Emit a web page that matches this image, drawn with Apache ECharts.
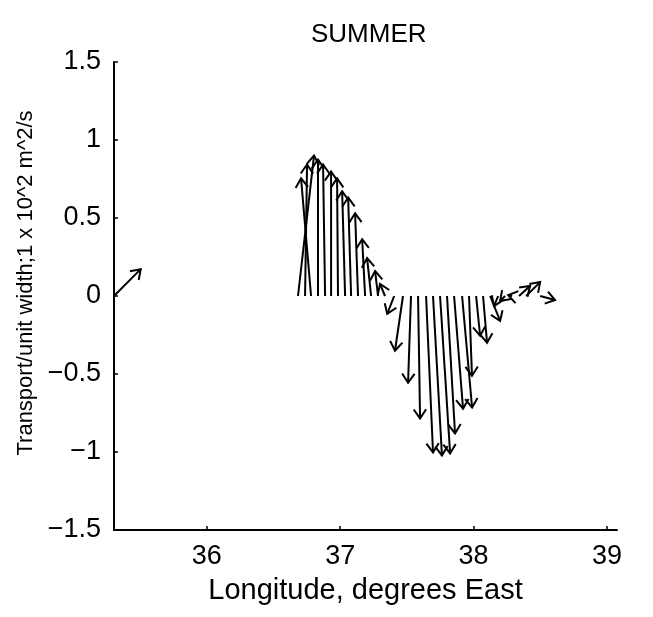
<!DOCTYPE html>
<html>
<head>
<meta charset="utf-8">
<script src="https://cdn.jsdelivr.net/npm/echarts@6/dist/echarts.min.js"></script>
<style>
  html, body { margin: 0; padding: 0; background: #fff; }
  #chart { width: 653px; height: 617px; }
</style>
</head>
<body>
<div id="chart"></div>
<script>
// station longitudes (degrees East), arrow east component (in longitude units) and north component
const stationLon = [
  36.684, 36.737, 36.782, 36.834, 36.887, 36.932, 36.984, 37.037, 37.082, 37.134,
  37.187, 37.232, 37.284, 37.336, 37.405, 37.471, 37.531, 37.584, 37.644, 37.696,
  37.749, 37.801, 37.854, 37.914, 37.966, 38.019, 38.071, 38.124, 38.184, 38.236,
  38.289, 38.341, 38.394, 38.499
];
const stationU = [
  0.120, 0.015, -0.075, 0.000, -0.015, 0.000, -0.007, -0.022, -0.022, -0.022,
  -0.022, -0.030, -0.022, -0.037, -0.052, -0.060, -0.022, 0.015, 0.052, 0.067,
  0.075, 0.060, 0.067, 0.075, 0.022, 0.030, 0.030, 0.075, -0.030, -0.037,
  -0.030, 0.082, 0.105, 0.112
];
const stationV = [
  0.900, 0.843, 0.754, 0.875, 0.843, 0.798, 0.754, 0.671, 0.632, 0.530,
  0.364, 0.243, 0.160, 0.077, -0.115, -0.351, -0.556, -0.785, -1.003, -1.022,
  -1.009, -0.881, -0.722, -0.715, -0.511, -0.255, -0.300, -0.160, -0.064, -0.032,
  0.006, 0.064, 0.089, -0.026
];
// reference (scale) arrow at the left axis
const scaleArrow = [35.305, 0.2, 0.172];

const xTicks = [36, 37, 38, 39];
const yTicks = [-1.5, -1, -0.5, 0, 0.5, 1, 1.5];

const FONT = 'Liberation Sans';
const arrows = stationLon.map((lon, i) => [lon, stationU[i], stationV[i]]);
arrows.push(scaleArrow);

const renderArrow = (params, api) => {
  const lon = api.value(0);
  const u = api.value(1);
  const v = api.value(2);
  const p0 = api.coord([lon, 0]);
  const p1 = api.coord([lon + u, v]);
  const ang = Math.atan2(p1[1] - p0[1], p1[0] - p0[0]);
  const head = 11;
  const spread = 0.6;
  const h1 = [p1[0] - head * Math.cos(ang - spread), p1[1] - head * Math.sin(ang - spread)];
  const h2 = [p1[0] - head * Math.cos(ang + spread), p1[1] - head * Math.sin(ang + spread)];
  const style = { stroke: '#000', lineWidth: 2, fill: null };
  return {
    type: 'group',
    children: [
      { type: 'polyline', shape: { points: [p0, p1] }, style },
      { type: 'polyline', shape: { points: [h1, p1, h2] }, style },
    ],
  };
};

const chart = echarts.init(document.getElementById('chart'));
chart.setOption({
  backgroundColor: '#fff',
  animation: false,
  textStyle: { fontFamily: FONT },
  title: {
    text: 'SUMMER',
    left: 306,
    top: 17,
    textStyle: { fontFamily: FONT, fontSize: 26, fontWeight: 'normal', color: '#000' },
  },
  grid: { left: 114, right: 36, top: 62, bottom: 87, outerBoundsMode: 'none' },
  xAxis: {
    type: 'value',
    min: 35.305,
    max: 39.075,
    name: 'Longitude, degrees East',
    nameLocation: 'middle',
    nameGap: 46,
    nameTextStyle: { fontFamily: FONT, fontSize: 29, color: '#000' },
    axisLine: { onZero: false, lineStyle: { color: '#000', width: 2 } },
    axisTick: { inside: true, length: 4, customValues: xTicks, lineStyle: { color: '#000', width: 1.5 } },
    axisLabel: { customValues: xTicks, fontFamily: FONT, fontSize: 27, color: '#000', margin: 13 },
    splitLine: { show: false },
  },
  yAxis: {
    type: 'value',
    min: -1.5,
    max: 1.5,
    interval: 0.5,
    name: 'Transport/unit width;1 x 10^2 m^2/s',
    nameLocation: 'middle',
    nameGap: 77,
    nameMoveOverlap: false,
    nameTextStyle: { fontFamily: FONT, fontSize: 22, color: '#000', padding: [0, 0, 0, 26] },
    axisLine: { show: true, onZero: false, lineStyle: { color: '#000', width: 2 } },
    axisTick: { show: true, inside: true, length: 4, customValues: yTicks, lineStyle: { color: '#000', width: 1.5 } },
    axisLabel: {
      customValues: yTicks,
      fontFamily: FONT,
      fontSize: 27,
      color: '#000',
      margin: 13,
      formatter: (val) => String(val).replace('-', '\u2212'),
    },
    splitLine: { show: false },
  },
  series: [
    {
      type: 'custom',
      renderItem: renderArrow,
      data: arrows,
      clip: false,
      encode: { x: 0, y: 2 },
    },
  ],
});
</script>
</body>
</html>
